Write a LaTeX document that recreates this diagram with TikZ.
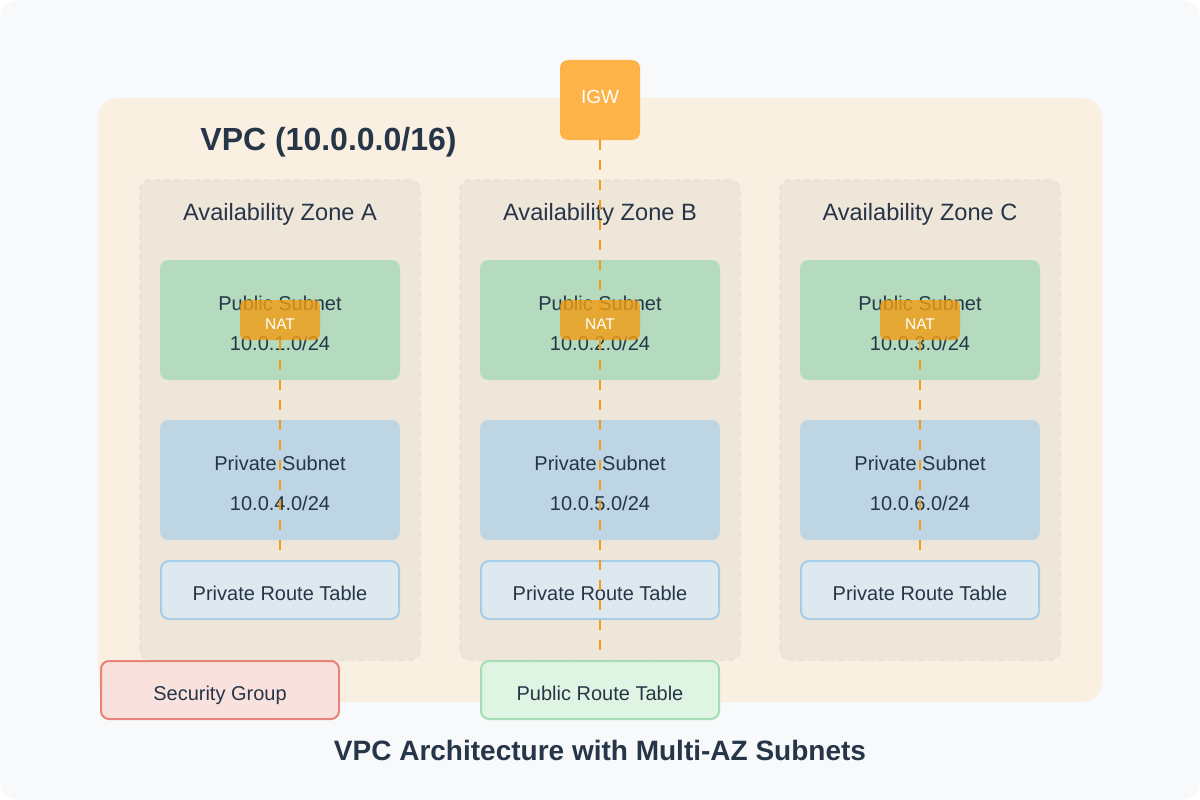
\documentclass[tikz,border=0pt]{standalone}
\usepackage{fontspec}
\setmainfont{Liberation Sans}
\pgfdeclarelayer{bg}
\pgfdeclarelayer{fg}
\pgfsetlayers{bg,main,fg}
\definecolor{pagebg}{HTML}{F7F9FB}
\definecolor{vpcfill}{HTML}{FAF0E2}
\definecolor{azfill}{HTML}{EFE6DA}
\definecolor{azdraw}{HTML}{ECE2D5}
\definecolor{pubfill}{HTML}{B5DBBE}
\definecolor{privfill}{HTML}{BED6E3}
\definecolor{prtfill}{HTML}{DEE8EF}
\definecolor{prtdraw}{HTML}{A6CEE8}
\definecolor{sgfill}{HTML}{F9E1DE}
\definecolor{sgdraw}{HTML}{E8847A}
\definecolor{pubrtfill}{HTML}{E0F4E3}
\definecolor{pubrtdraw}{HTML}{A5DDB6}
\definecolor{igwc}{HTML}{FDB347}
\definecolor{orangec}{HTML}{F39C12}
\definecolor{ink}{HTML}{263547}
\begin{document}
\begin{tikzpicture}[x=1pt,y=-1pt,
  plain/.style={inner sep=0pt, outer sep=0pt, draw=none},
  vpcbox/.style={plain, fill=vpcfill, rounded corners=20, minimum width=1004, minimum height=604},
  azbox/.style={plain, fill=azfill, draw=azdraw, line width=2pt, dash pattern=on 6pt off 4pt, rounded corners=10, minimum width=280, minimum height=480},
  pubbox/.style={plain, fill=pubfill, rounded corners=8, minimum width=240, minimum height=120},
  privbox/.style={plain, fill=privfill, rounded corners=8, minimum width=240, minimum height=120},
  prtbox/.style={plain, fill=prtfill, draw=prtdraw, line width=2pt, rounded corners=8, minimum width=238, minimum height=58},
  sgbox/.style={plain, fill=sgfill, draw=sgdraw, line width=2pt, rounded corners=8, minimum width=238, minimum height=58},
  pubrtbox/.style={plain, fill=pubrtfill, draw=pubrtdraw, line width=2pt, rounded corners=8, minimum width=238, minimum height=58},
  igwbox/.style={plain, fill=igwc, rounded corners=8, minimum width=80, minimum height=80},
  natbox/.style={plain, fill=orangec, fill opacity=0.8, rounded corners=6, minimum width=80, minimum height=40},
  link/.style={draw=orangec, line width=2pt, dash pattern=on 10pt off 10pt},
  lbl/.style={inner sep=0pt, anchor=base, text=ink, font=\fontsize{20}{24}\selectfont},
  azlbl/.style={inner sep=0pt, anchor=base, text=ink, font=\fontsize{23.6}{28}\selectfont},
  wlbl/.style={inner sep=0pt, anchor=base, text=white},
  title/.style={inner sep=0pt, anchor=base, text=ink, font=\bfseries\fontsize{32}{38}\selectfont},
  caption/.style={inner sep=0pt, anchor=base, text=ink, font=\bfseries\fontsize{28}{34}\selectfont}
]
\useasboundingbox (0,0) rectangle (1200,800);
\begin{pgfonlayer}{bg}
  \fill[white] (0,0) rectangle (1200,800);
  \fill[pagebg, rounded corners=20] (0,0) rectangle (1200,800);
  \node[vpcbox] (vpc) at (600,400) {};
  \node[title] (vpctitle) at (328.5,150) {VPC (10.0.0.0/16)};
  % zones
  \foreach \z/\x/\n/\s/\p in {A/280/1/4/a, B/600/2/5/b, C/920/3/6/c}{
    \node[azbox] (az\p) at (\x,420) {};
    \node[azlbl] (az\p lbl) at (\x,220) {Availability Zone \z};
    \node[pubbox] (pub\p) at (\x,320) {};
    \node[lbl] (pub\p t1) at (\x,310) {Public Subnet};
    \node[lbl] (pub\p t2) at (\x,350) {10.0.\n.0/24};
    \node[privbox] (priv\p) at (\x,480) {};
    \node[lbl] (priv\p t1) at (\x,470) {Private Subnet};
    \node[lbl] (priv\p t2) at (\x,510) {10.0.\s.0/24};
    \node[prtbox] (prt\p) at (\x,590) {};
    \node[lbl] (prt\p t) at (\x,600) {Private Route Table};
  }
\end{pgfonlayer}
\begin{pgfonlayer}{fg}
  \node[natbox] (nata) at (280,320) {};
  \node[natbox] (natb) at (600,320) {};
  \node[natbox] (natc) at (920,320) {};
  \foreach \p/\x in {a/280, b/600, c/920}{
    \node[wlbl, font=\fontsize{15.5}{18}\selectfont] (nat\p t) at (\x,329.5) {NAT};
  }
  \node[igwbox] (igw) at (600,100) {};
  \node[wlbl, font=\fontsize{19}{23}\selectfont] (igwt) at (600,103.5) {IGW};
  \node[sgbox] (sg) at (220,690) {};
  \node[lbl] (sgt) at (220,700) {Security Group};
  \node[pubrtbox] (pubrt) at (600,690) {};
  \node[lbl] (pubrtt) at (600,700) {Public Route Table};
  \node[caption] (cap) at (600,760) {VPC Architecture with Multi-AZ Subnets};
\end{pgfonlayer}
% connectors
\coordinate (igwend) at (600,650);
\coordinate (nataend) at (280,550);
\coordinate (natbend) at (600,550);
\coordinate (natcend) at (920,550);
\draw[link] (igw.south) -- (igwend);
\draw[link] (nata.center) -- (nataend);
\draw[link] (natc.center) -- (natcend);
\end{tikzpicture}
\end{document}
